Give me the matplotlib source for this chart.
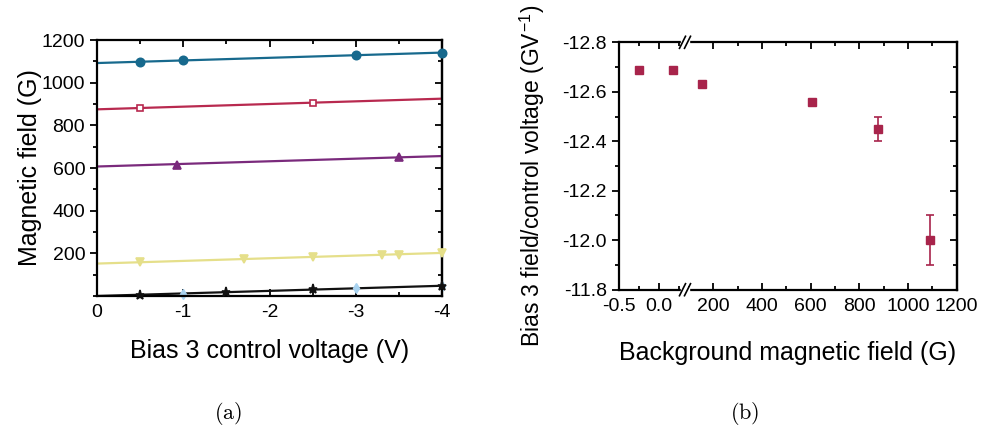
import matplotlib.pyplot as plt
from matplotlib.ticker import MultipleLocator, FixedLocator

plt.rcParams['font.family'] = ['Liberation Sans', 'DejaVu Sans']
plt.rcParams['mathtext.fontset'] = 'cm'
plt.rcParams['axes.unicode_minus'] = False

# (a) bias 3 calibration: points, one list per background field
teal_v = [-0.5, -1.0, -3.0, -4.0]
teal_b = [1099, 1105, 1128, 1141]
red_v = [-0.5, -2.5]
red_b = [881, 907]
purple_v = [-0.93, -3.5]
purple_b = [616, 651]
yellow_v = [-0.5, -1.7, -2.5, -3.3, -3.5, -4.0]
yellow_b = [158, 172, 181, 191, 192, 202]
black_v = [-0.5, -1.5, -2.5, -4.0]
black_b = [5, 17, 31, 48]
blue_v = [-1.0, -3.0, -4.0]
blue_b = [9, 38, 48]

# linear fits, value at 0 V and at -4 V
fit_v = [0.0, -4.0]
teal_fit = [1092, 1141]
red_fit = [875, 925]
purple_fit = [607, 656]
yellow_fit = [152, 202]
black_fit = [0, 48]

# (b) slope vs background field
bg_field = [-0.25, 0.17, 155, 606, 876, 1092]
slope = [-12.69, -12.69, -12.63, -12.56, -12.45, -12.00]
slope_err = [0.0, 0.0, 0.0, 0.0, 0.05, 0.10]


def style_ticks(a, right_axis=None):
    """Origin-like ticks: y outward on the left, everything else inward."""
    a.tick_params(which='both', labelsize=14, width=1.3)
    a.tick_params(axis='x', which='both', direction='in', top=True, pad=6)
    a.tick_params(axis='y', which='both', direction='out', right=False)
    a.tick_params(which='major', length=5)
    a.tick_params(which='minor', length=3)
    for s in a.spines.values():
        s.set_linewidth(1.6)
    if right_axis is not None:
        right_axis.tick_params(which='both', direction='in', labelright=False, width=1.3)
        right_axis.tick_params(which='major', length=5)
        right_axis.tick_params(which='minor', length=3)
        right_axis.spines['right'].set_linewidth(1.6)


fig = plt.figure(figsize=(9.82, 4.4), dpi=100)

ax = fig.add_axes([97 / 982, 1 - 296 / 440, 345 / 982, 256 / 440])
series = [
    (teal_v, teal_b, teal_fit, '#17698d', 'o', 6, '#17698d'),
    (red_v, red_b, red_fit, '#b8294f', 's', 4.5, 'white'),
    (purple_v, purple_b, purple_fit, '#7a2a7c', '^', 6, '#7a2a7c'),
    (yellow_v, yellow_b, yellow_fit, '#e5df8a', 'v', 6, '#e5df8a'),
    (black_v, black_b, black_fit, '#111111', '*', 6.5, '#111111'),
]
for v, b, fit, c, m, ms, fc in series:
    ax.plot(fit_v, fit, color=c, lw=1.6, zorder=2)
    ax.plot(v, b, ls='none', marker=m, ms=ms, color=c, mfc=fc, mew=1.2,
            clip_on=False, zorder=3)
ax.plot(blue_v, blue_b, ls='none', marker='d', ms=5, color='#a9d3f0',
        clip_on=False, zorder=2.5)

ax.set_xlim(0, -4)
ax.set_ylim(0, 1200)
ax.xaxis.set_major_locator(MultipleLocator(1))
ax.xaxis.set_minor_locator(MultipleLocator(0.5))
ax.yaxis.set_major_locator(FixedLocator([200, 400, 600, 800, 1000, 1200]))
ax.yaxis.set_minor_locator(MultipleLocator(100))
ax.set_xlabel('Bias 3 control voltage (V)', fontsize=18, labelpad=13)
ax.set_ylabel('Magnetic field (G)', fontsize=18)
ax.yaxis.set_label_coords((42 - 97) / 345, 0.5)
ax_r = ax.secondary_yaxis('right')
ax_r.yaxis.set_major_locator(MultipleLocator(200))
ax_r.yaxis.set_minor_locator(MultipleLocator(100))
style_ticks(ax, ax_r)

# (b) broken x axis made of two panels
x0, x1, x2 = 618.7, 685, 956.7
bot, top = 1 - 289.7 / 440, 247.4 / 440
bl = fig.add_axes([x0 / 982, bot, (x1 - x0) / 982, top])
br = fig.add_axes([x1 / 982, bot, (x2 - x1) / 982, top], sharey=bl)
for a in (bl, br):
    a.errorbar(bg_field, slope, yerr=slope_err, fmt='s', ms=6, color='#a8244b',
               ecolor='#a8244b', elinewidth=1.2, capsize=3, capthick=1.2)
bl.set_xlim(-0.5, 0.32)
br.set_xlim(83.5, 1200)
bl.set_ylim(-11.8, -12.8)
bl.yaxis.set_major_locator(MultipleLocator(0.2))
bl.yaxis.set_minor_locator(MultipleLocator(0.1))
bl.xaxis.set_major_locator(FixedLocator([-0.5, 0.0]))
bl.xaxis.set_minor_locator(FixedLocator([-0.25, 0.25]))
bl.set_xticklabels(['-0.5', '0.0'])
br.xaxis.set_major_locator(MultipleLocator(200))
br.xaxis.set_minor_locator(MultipleLocator(100))
bl.spines['right'].set_visible(False)
br.spines['left'].set_visible(False)
br_r = br.secondary_yaxis('right')
br_r.yaxis.set_major_locator(MultipleLocator(0.2))
br_r.yaxis.set_minor_locator(MultipleLocator(0.1))
style_ticks(bl)
style_ticks(br, br_r)
br.tick_params(axis='y', which='both', left=False, labelleft=False)

fig.text(532 / 982, 1 - 176 / 440, 'Bias 3 field/control voltage (GV$^{\\mathregular{-1}}$)',
         fontsize=16.5, rotation=90, ha='center', va='center')
fig.text((x0 + x2) / 2 / 982, 1 - 353 / 440, 'Background magnetic field (G)',
         fontsize=18, ha='center', va='center')

# break marks on the x axis of (b)
for yy in (bot, bot + top):
    fig.patches.append(plt.Rectangle((x1 / 982 - 4 / 982, yy - 3 / 440), 8 / 982, 6 / 440,
                                     transform=fig.transFigure, color='white', zorder=5))
    for dx in (-2.5, 2.5):
        fig.add_artist(plt.Line2D([(x1 + dx - 3) / 982, (x1 + dx + 3) / 982],
                                  [yy - 6 / 440, yy + 6 / 440], color='black', lw=1.2,
                                  transform=fig.transFigure, zorder=6))

fig.text(228 / 982, 1 - 413 / 440, r'$\mathrm{(a)}$', fontsize=16, ha='center', va='center')
fig.text(745 / 982, 1 - 413 / 440, r'$\mathrm{(b)}$', fontsize=16, ha='center', va='center')

fig.savefig('out.png', dpi=100)
